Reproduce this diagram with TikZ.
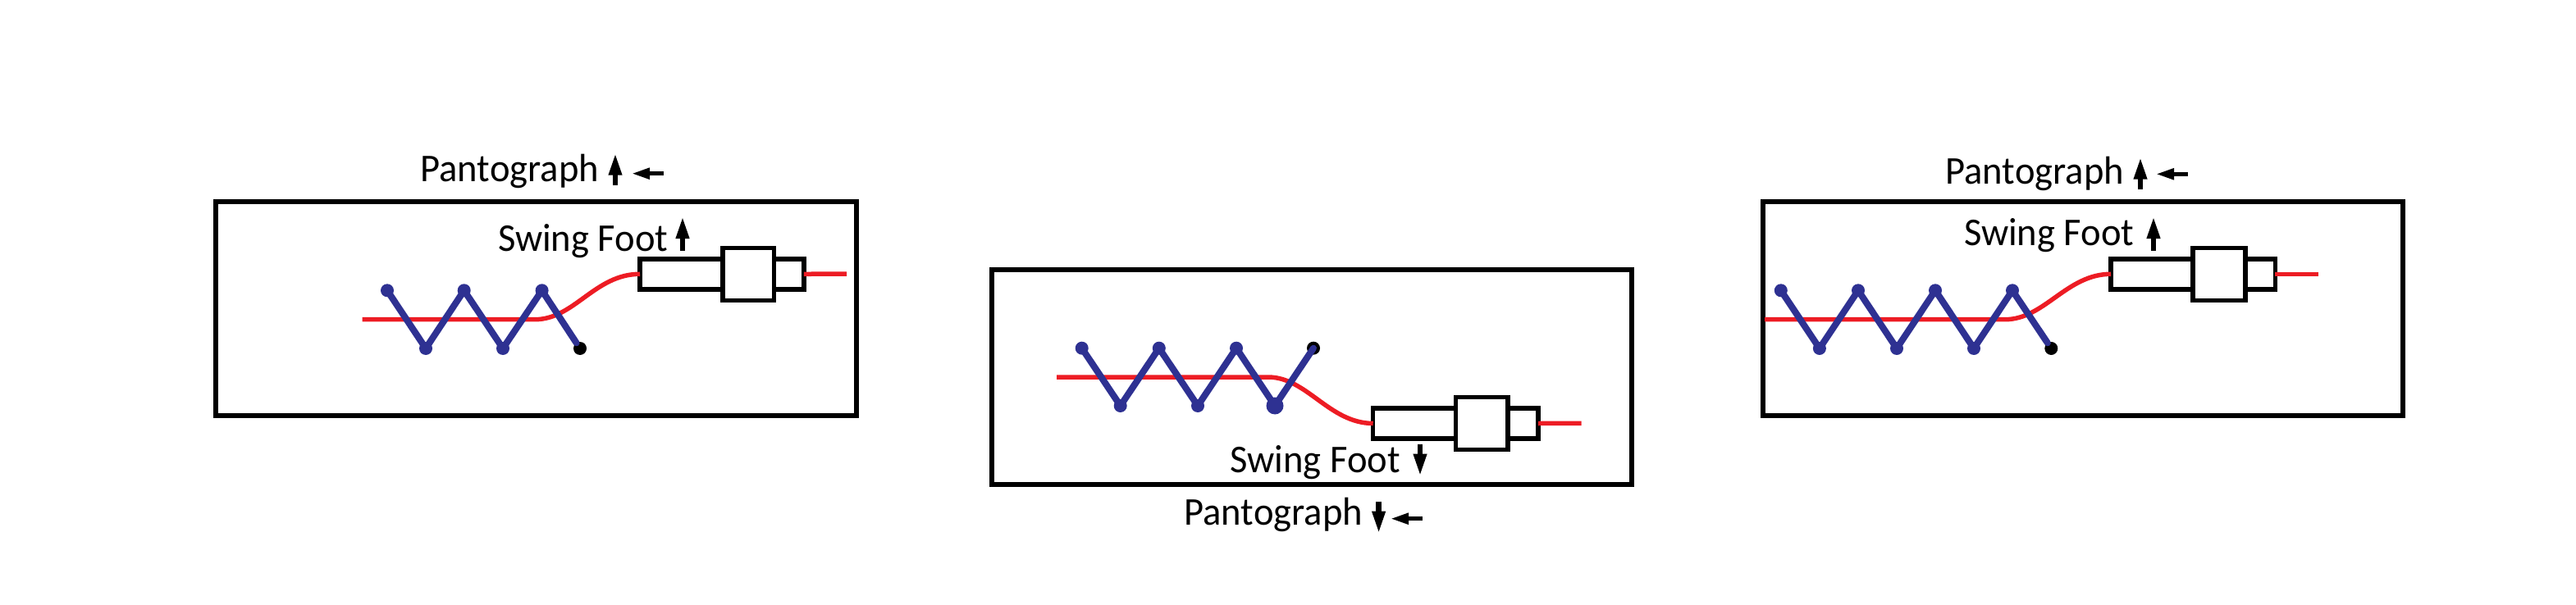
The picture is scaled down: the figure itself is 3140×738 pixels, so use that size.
\documentclass[tikz,border=0pt]{standalone}
\usepackage{fontspec}
\setmainfont{Carlito}
\usetikzlibrary{arrows.meta}
\definecolor{sblue}{HTML}{2E3192}
\definecolor{sred}{HTML}{ED1C24}
\tikzset{
  frame/.style={draw=black,line width=5.5pt,fill=none},
  block/.style={draw=black,line width=5.5pt,fill=white,inner sep=0pt,outer sep=0pt,minimum width=#1},
  small/.style={block=#1,minimum height=37pt},
  big/.style={block=#1,minimum height=64pt},
  bdot/.style={circle,fill=sblue,inner sep=0pt,outer sep=0pt,minimum size=16pt},
  kdot/.style={circle,fill=black,inner sep=0pt,outer sep=0pt,minimum size=16pt},
  wdot/.style={circle,fill=sblue,inner sep=0pt,outer sep=0pt,minimum size=21pt},
  zig/.style={draw=sblue,line width=8pt,line cap=round,line join=round},
  rod/.style={draw=sred,line width=5.5pt},
  lbl/.style={anchor=base west,inner sep=0pt,outer sep=0pt,xscale=0.97,font=\fontsize{48}{52}\selectfont},
  vtip/.style={draw=black,line width=6.3pt,-{Triangle[length=27pt,width=15pt]}},
  htip/.style={draw=black,line width=5pt,-{Triangle[length=22pt,width=13pt]}}
}
\begin{document}
\begin{tikzpicture}[x=1pt,y=-1pt]
\useasboundingbox (0,0) rectangle (3140,738);
% ---------- panel 1
\node[frame,inner sep=0pt,minimum width=781pt,minimum height=261pt] (f1) at (653.5,376.5) {};
\coordinate (r1s) at (441.6,389.7);
\coordinate (r1m) at (652,389.7);
\coordinate (r1e) at (1032,334);
\node[bdot] (a1) at (472,354.3) {};
\node[bdot] (a2) at (519,425) {};
\node[bdot] (a3) at (565.7,354.3) {};
\node[bdot] (a4) at (613,425) {};
\node[bdot] (a5) at (660.6,354.3) {};
\node[kdot] (a6) at (707,425) {};
\node[small=101pt] (c1a) at (830.5,334.3) {};
\node[small=36.5pt] (c1c) at (961.7,334.3) {};
\node[big=62.5pt] (c1b) at (912.2,334.7) {};
\draw[rod] (r1s) -- (r1m) .. controls (700,389.7) and (725,334.3) .. (c1a.west);
\draw[rod] (c1c.east) -- (r1e);
\draw[zig] (a1.center) -- (a2.center) -- (a3.center) -- (a4.center) -- (a5.center) -- (a6);
\node[lbl] (t1p) at (512.5,222) {Pantograph};
\node[lbl] (t1s) at (607,306) {Swing Foot};
\coordinate (v1a) at (750,225.7); \coordinate (v1b) at (750,186.7);
\coordinate (h1a) at (809,211.7); \coordinate (h1b) at (770,211.7);
\coordinate (s1a) at (832,306); \coordinate (s1b) at (832,264);
\draw[vtip] (v1a) -- (v1b);
\draw[htip] (h1a) -- (h1b);
\draw[vtip] (s1a) -- (s1b);
% ---------- panel 2
\node[frame,inner sep=0pt,minimum width=780pt,minimum height=262pt] (f2) at (1599,460) {};
\coordinate (r2s) at (1288,460);
\coordinate (r2m) at (1545.6,460);
\coordinate (r2e) at (1927.5,516.3);
\node[bdot] (b1) at (1318.7,424.7) {};
\node[bdot] (b2) at (1365.7,495) {};
\node[bdot] (b3) at (1412.8,424.7) {};
\node[bdot] (b4) at (1460,495) {};
\node[bdot] (b5) at (1507,424.7) {};
\node[wdot] (b6) at (1554,495) {};
\node[kdot] (b7) at (1601,424.7) {};
\node[small=101pt] (c2a) at (1724.2,516.5) {};
\node[small=37pt] (c2c) at (1856.5,516.5) {};
\node[big=63.5pt] (c2b) at (1806.3,516.3) {};
\draw[rod] (r2s) -- (r2m) .. controls (1593,460) and (1620,516.3) .. (c2a.west);
\draw[rod] (c2c.east) -- (r2e);
\draw[zig] (b1.center) -- (b2.center) -- (b3.center) -- (b4.center) -- (b5.center) -- (b6.center) -- (b7.center);
\node[lbl] (t2p) at (1443.5,640.3) {Pantograph};
\node[lbl] (t2s) at (1499.5,576.7) {Swing Foot};
\coordinate (v2a) at (1680.6,611.7); \coordinate (v2b) at (1680.6,650.7);
\coordinate (h2a) at (1734,632.7); \coordinate (h2b) at (1695,632.7);
\coordinate (s2a) at (1731,541.7); \coordinate (s2b) at (1731,580.7);
\draw[vtip] (v2a) -- (v2b);
\draw[htip] (h2a) -- (h2b);
\draw[vtip] (s2a) -- (s2b);
% ---------- panel 3
\node[frame,inner sep=0pt,minimum width=780pt,minimum height=261pt] (f3) at (2539,376.5) {};
\coordinate (r3s) at (2151,389.7);
\coordinate (r3m) at (2444,389.7);
\coordinate (r3e) at (2825.6,334.3);
\node[bdot] (d1) at (2170.8,354.3) {};
\node[bdot] (d2) at (2217.9,425) {};
\node[bdot] (d3) at (2265,354.3) {};
\node[bdot] (d4) at (2312,425) {};
\node[bdot] (d5) at (2359,354.3) {};
\node[bdot] (d6) at (2406,425) {};
\node[bdot] (d7) at (2453,354.3) {};
\node[kdot] (d8) at (2500.3,425) {};
\node[small=100pt] (c3a) at (2623,334.3) {};
\node[small=36.6pt] (c3c) at (2755,334.3) {};
\node[big=63.7pt] (c3b) at (2704.9,334.7) {};
\draw[rod] (r3s) -- (r3m) .. controls (2492,389.7) and (2519,334.3) .. (c3a.west);
\draw[rod] (c3c.east) -- (r3e);
\draw[zig] (d1.center) -- (d2.center) -- (d3.center) -- (d4.center) -- (d5.center) -- (d6.center) -- (d7.center) -- (d8);
\node[lbl] (t3p) at (2371.5,224.3) {Pantograph};
\node[lbl] (t3s) at (2394,299.3) {Swing Foot};
\coordinate (v3a) at (2609,230.7); \coordinate (v3b) at (2609,191.7);
\coordinate (h3a) at (2667,212.3); \coordinate (h3b) at (2628,212.3);
\coordinate (s3a) at (2625,306); \coordinate (s3b) at (2625,264);
\draw[vtip] (v3a) -- (v3b);
\draw[htip] (h3a) -- (h3b);
\draw[vtip] (s3a) -- (s3b);
\end{tikzpicture}
\end{document}
